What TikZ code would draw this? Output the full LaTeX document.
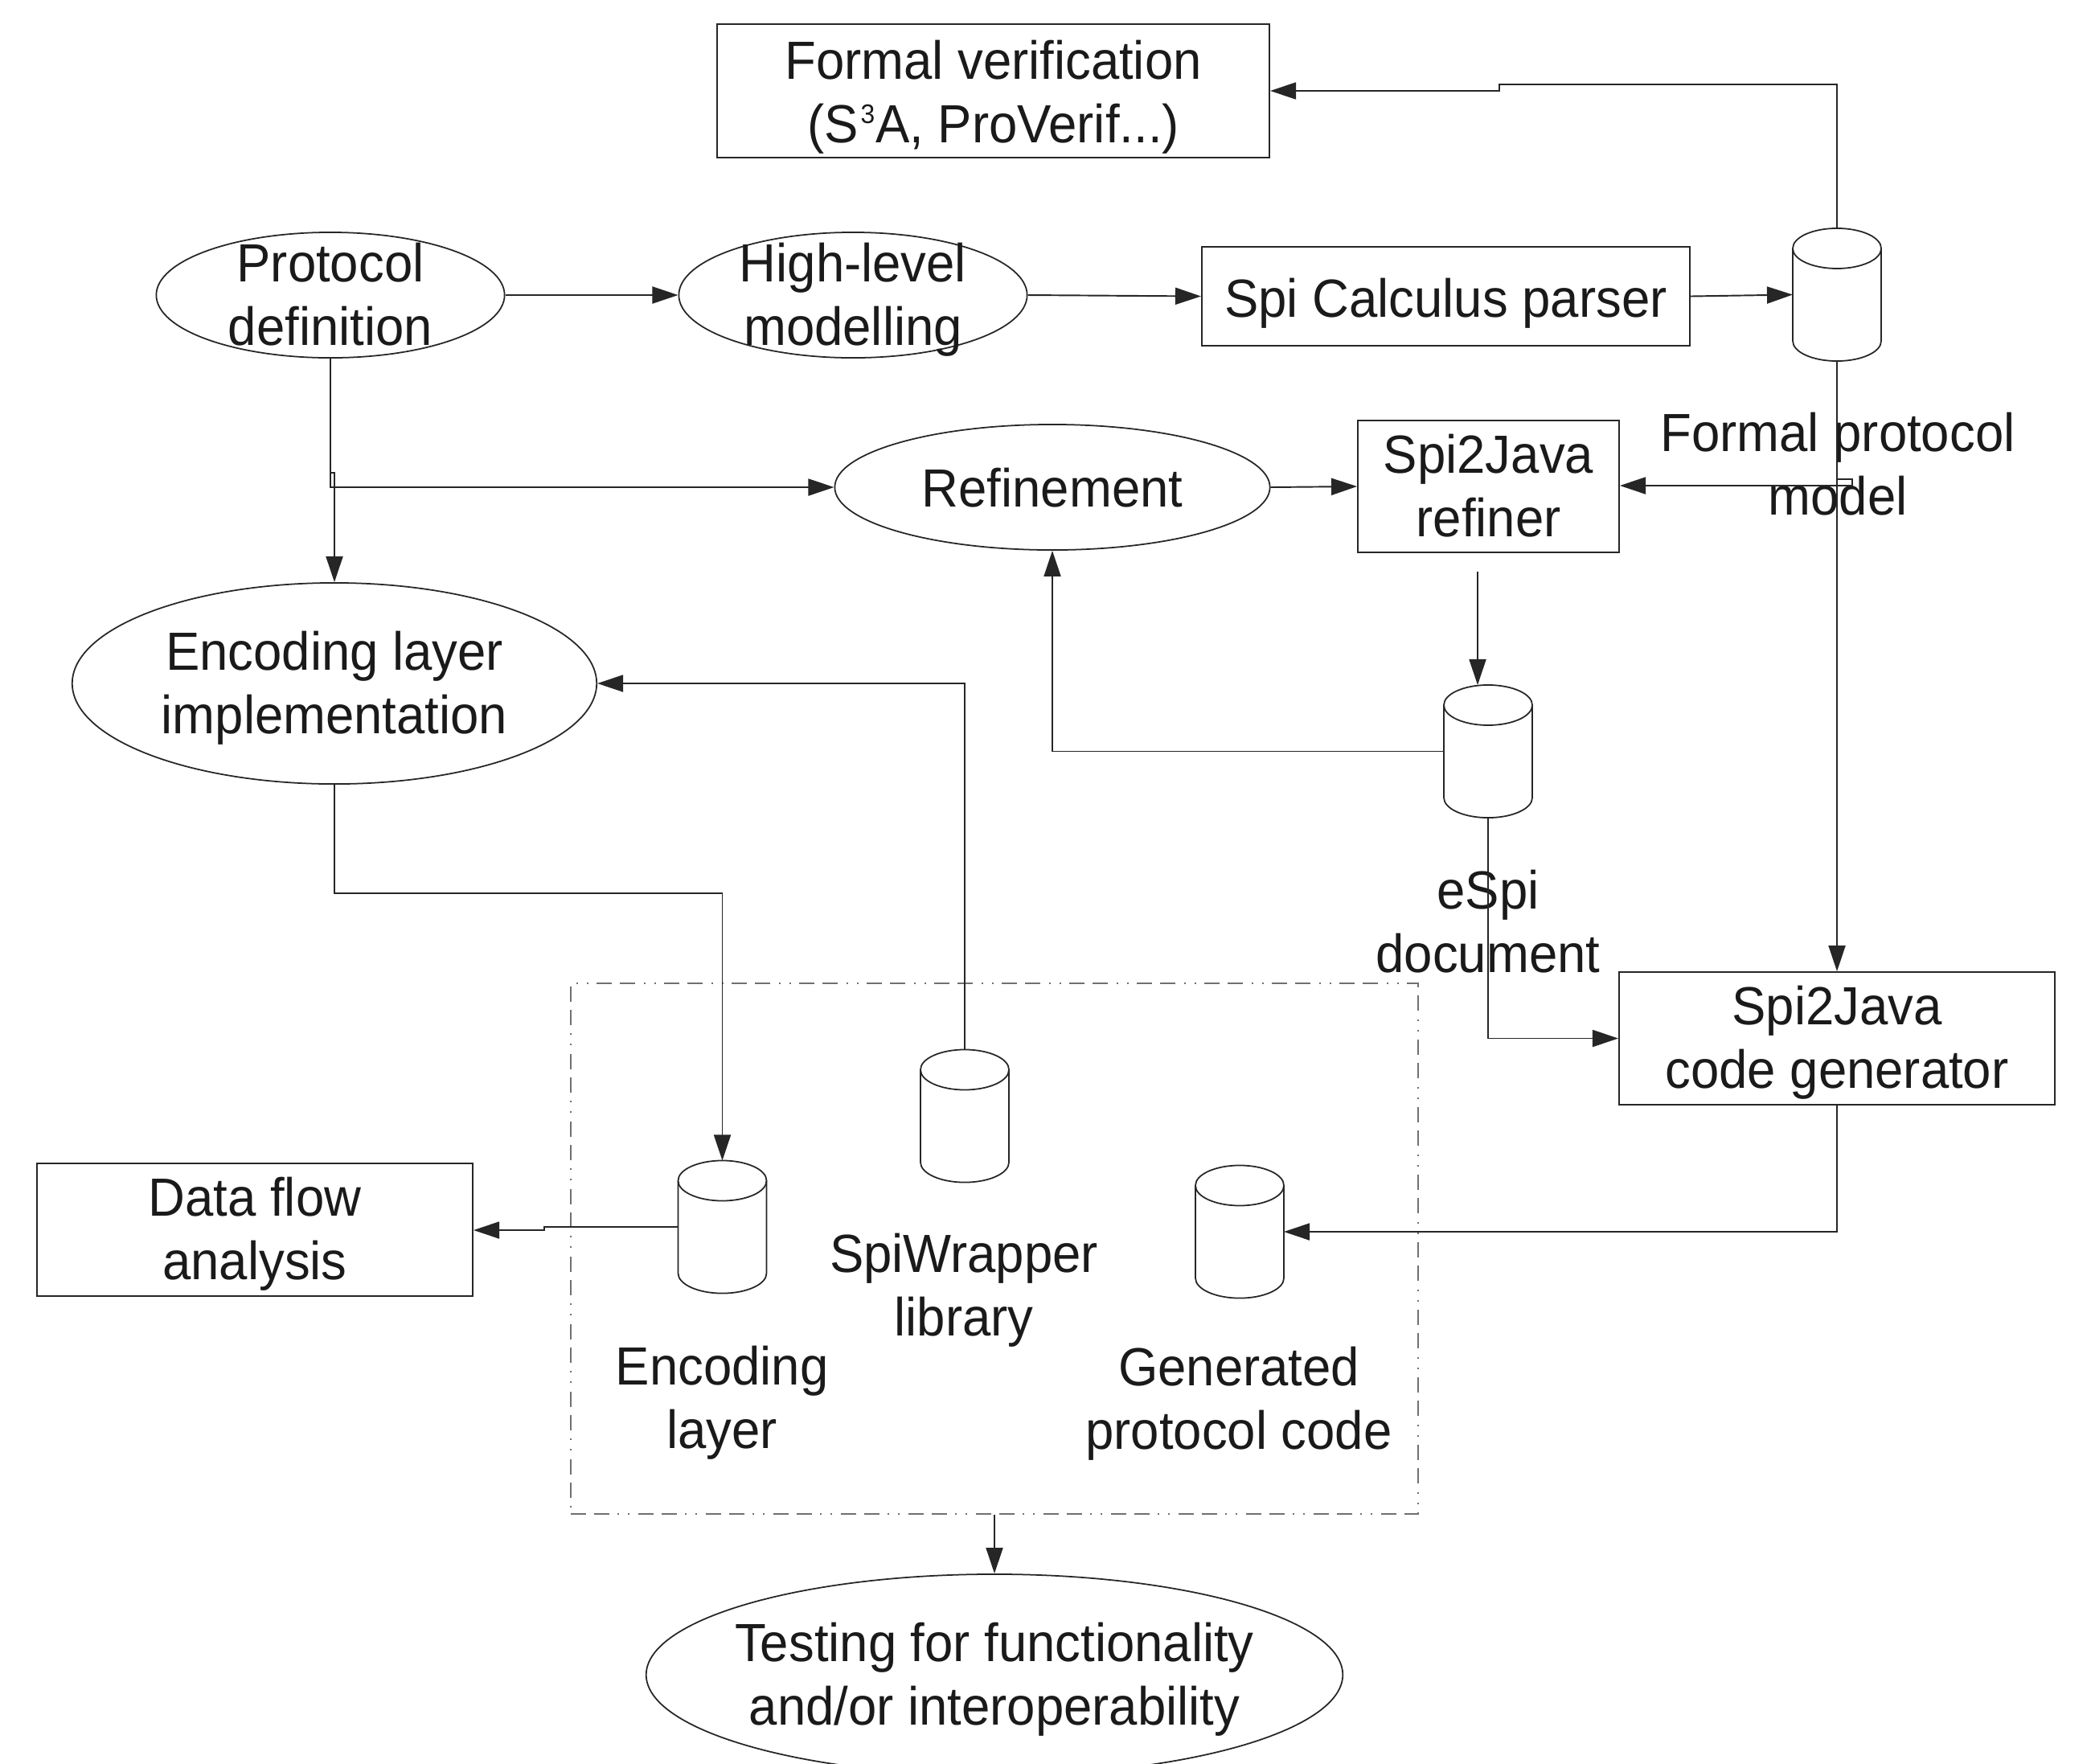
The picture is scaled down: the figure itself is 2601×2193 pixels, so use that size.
\documentclass[tikz,border=0pt]{standalone}
\usepackage{fontspec}
\setmainfont{Liberation Sans}[FakeStretch=0.95]
\usetikzlibrary{arrows.meta,shapes.geometric,calc}
\definecolor{ln}{HTML}{262626}
\definecolor{txt}{HTML}{1A1A1A}
\definecolor{grpc}{HTML}{707070}
\newcommand\dbcyl[2]{%
  \node[dbshape] (#1) at (#2) {};
  \draw[draw=ln, line width=0.5pt, fill=white] ([yshift=-0.25cm]#1.north west) -- ([yshift=0.25cm]#1.south west)
     arc[start angle=180, end angle=360, x radius=0.55cm, y radius=0.25cm] -- ([yshift=-0.25cm]#1.north east);
  \draw[draw=ln, line width=0.5pt] ([yshift=-0.25cm]#1.north) ellipse[x radius=0.55cm, y radius=0.25cm];
}
\newcommand\supthree{\kern0.8pt\raisebox{6.8pt}{\fontsize{9.5pt}{9.5pt}\selectfont 3}\kern0.3pt}
\begin{document}
\begin{tikzpicture}[x=0.01cm, y=-0.01cm,
  every node/.style={font=\fontsize{19pt}{22.5pt}\selectfont, text=txt, align=center},
  tl/.style={yshift=-0.105cm, inner sep=0pt, execute at begin node=\strut, execute at end node=\strut},
  box/.style={draw=ln, line width=0.5pt, rectangle, inner sep=0pt},
  oval/.style={draw=ln, line width=0.5pt, ellipse, inner sep=0pt},
  dbshape/.style={rectangle, inner sep=0pt, outer sep=0pt, minimum width=1.1cm, minimum height=1.65cm},
  grp/.style={draw=grpc, line width=0.5pt, rectangle, inner sep=0pt,
     dash pattern=on 0.19cm off 0.1cm on 0.19cm off 0.1cm on 0.02cm off 0.11cm on 0.02cm off 0.11cm},
  arr/.style={draw=ln, line width=0.55pt, -{Triangle[length=0.32cm, width=0.21cm]}}]
\useasboundingbox (0,0) rectangle (2601,2193);

\node[box, minimum width=6.87cm, minimum height=1.66cm,
  label={[tl, yshift=-0.02cm]center:Formal verification\\(S\supthree A, ProVerif...)}] (fv) at (1235.5,113) {};
\node[oval, minimum width=4.33cm, minimum height=1.56cm,
  label={[tl]center:Protocol\\definition}] (pd) at (411,367) {};
\node[oval, minimum width=4.33cm, minimum height=1.56cm,
  label={[tl]center:High-level\\modelling}] (hl) at (1061,367) {};
\node[box, minimum width=6.07cm, minimum height=1.23cm,
  label={[tl]center:Spi Calculus parser}] (scp) at (1798.5,368.5) {};
\dbcyl{fpm}{2285,366.5}
\node[tl] (fpml) at (2286,578) {Formal protocol\\model};
\node[oval, minimum width=5.41cm, minimum height=1.56cm,
  label={[tl, yshift=0.02cm]center:Refinement}] (ref) at (1309,606) {};
\node[box, minimum width=3.25cm, minimum height=1.64cm,
  label={[tl]center:Spi2Java\\refiner}] (sjr) at (1851.5,605) {};
\dbcyl{esp}{1851,934.5}
\node[tl] (espl) at (1851,1147) {eSpi\\document};
\node[box, minimum width=5.42cm, minimum height=1.65cm,
  label={[tl]center:Spi2Java\\code generator}] (sjc) at (2285,1291.5) {};
\node[oval, minimum width=6.52cm, minimum height=2.5cm,
  label={[tl]center:Encoding layer\\implementation}] (eli) at (416,850) {};
\node[grp, minimum width=10.54cm, minimum height=6.6cm] (grp) at (1237,1553) {};
\dbcyl{el}{898.5,1526}
\node[tl] (ell) at (898,1739) {Encoding\\layer};
\dbcyl{sw}{1200,1388}
\node[tl] (swl) at (1199,1599) {SpiWrapper\\library};
\dbcyl{gpc}{1542,1532}
\node[tl] (gpcl) at (1541,1740) {Generated\\protocol code};
\node[box, minimum width=5.42cm, minimum height=1.65cm,
  label={[tl]center:Data flow\\analysis}] (dfa) at (317,1529.5) {};
\node[oval, minimum width=8.66cm, minimum height=2.5cm,
  label={[tl]center:Testing for functionality\\and/or interoperability}] (test) at (1237,2083) {};

% connectors
\draw[arr] (pd.east) -- (hl.west);
\draw[arr] (hl.east) -- (scp.west);
\draw[arr] (scp.east) -- (fpm.west);
\coordinate (fvA) at (2285,105);
\coordinate (fvB) at (1865,105);
\coordinate (fvC) at (1865,113);
\draw[arr] (fpm.north) -- (fvA) -- (fvB) -- (fvC) -- (fv.east);
\draw[arr] (fpm.south) -- (sjc.north);
\coordinate (mA) at (2285,596);
\coordinate (mB) at (2304,596);
\coordinate (mC) at (2304,604);
\draw[arr] (mA) -- (mB) -- (mC) -- (mC -| sjr.east);
\draw[arr] (ref.east) -- (sjr.west);
\coordinate (sjrout) at (1838,711);
\draw[arr] (sjrout) -- (sjrout |- esp.north);
\draw[arr] (esp.west) -| (ref.south);
\draw[arr] (esp.south) |- (sjc.west);
\draw[arr] (sjc.south) |- (gpc.east);
\draw[arr] (pd.south) |- (ref.west);
\coordinate (pdB) at (411,588);
\coordinate (pdC) at (416,588);
\draw[arr] (pdB) -- (pdC) -- (pdC |- eli.north);
\draw[arr] (sw.north) |- (eli.east);
\coordinate (eliA) at (416,1111);
\draw[arr] (eli.south) -- (eliA) -| (el.north);
\coordinate (elA) at (677,1526);
\coordinate (elB) at (677,1530);
\draw[arr] (el.west) -- (elA) -- (elB) -- (elB -| dfa.east);
\draw[arr] (grp.south) -- (test.north);
\end{tikzpicture}
\end{document}
